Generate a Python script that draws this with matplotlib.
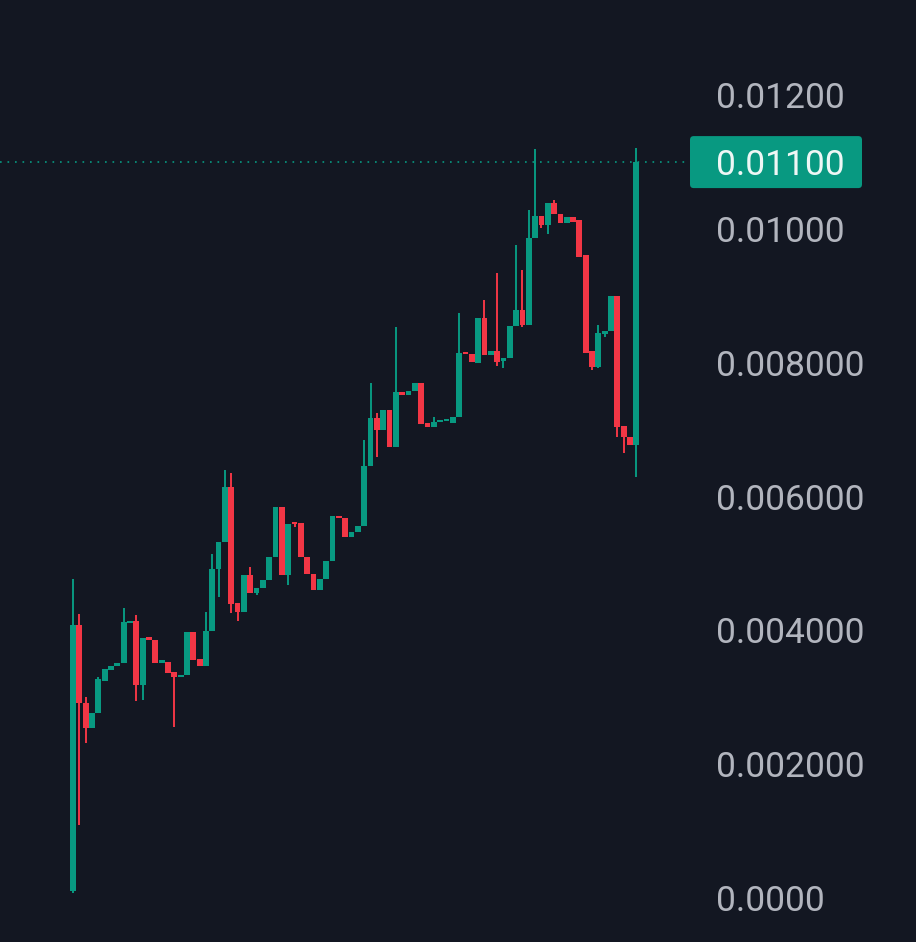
import matplotlib
matplotlib.use("Agg")
import matplotlib.pyplot as plt
from matplotlib.patches import FancyBboxPatch
import numpy as np

# OHLC per candle
opens = [0.00010, 0.00408, 0.00292, 0.00254, 0.00277, 0.00324, 0.00341, 0.00347, 0.00351, 0.00411,
         0.00414, 0.00318, 0.00390, 0.00386, 0.00351, 0.00353, 0.00338, 0.00330, 0.00333, 0.00398,
         0.00357, 0.00347, 0.00399, 0.00492, 0.00532, 0.00614, 0.00441, 0.00428, 0.00483, 0.00456,
         0.00463, 0.00475, 0.00510, 0.00585, 0.00483, 0.00561, 0.00561, 0.00510, 0.00484, 0.00460,
         0.00477, 0.00504, 0.00571, 0.00568, 0.00540, 0.00547, 0.00556, 0.00646, 0.00718, 0.00700,
         0.00730, 0.00674, 0.00756, 0.00752, 0.00758, 0.00770, 0.00710, 0.00704, 0.00712, 0.00713,
         0.00710, 0.00719, 0.00816, 0.00813, 0.00800, 0.00867, 0.00812, 0.00818, 0.00803, 0.00807,
         0.00855, 0.00879, 0.00857, 0.00987, 0.01020, 0.01006, 0.01039, 0.01022, 0.01009, 0.01018,
         0.01014, 0.00961, 0.00818, 0.00794, 0.00843, 0.00848, 0.00900, 0.00706, 0.00689, 0.00677]
highs = [0.00477, 0.00425, 0.00301, 0.00277, 0.00330, 0.00342, 0.00347, 0.00351, 0.00434, 0.00414,
         0.00423, 0.00389, 0.00390, 0.00386, 0.00356, 0.00353, 0.00338, 0.00333, 0.00398, 0.00398,
         0.00357, 0.00428, 0.00514, 0.00532, 0.00640, 0.00635, 0.00441, 0.00483, 0.00495, 0.00463,
         0.00475, 0.00510, 0.00585, 0.00585, 0.00559, 0.00561, 0.00561, 0.00510, 0.00484, 0.00477,
         0.00504, 0.00571, 0.00571, 0.00568, 0.00547, 0.00556, 0.00685, 0.00770, 0.00725, 0.00730,
         0.00730, 0.00854, 0.00756, 0.00758, 0.00770, 0.00770, 0.00710, 0.00719, 0.00713, 0.00715,
         0.00719, 0.00875, 0.00816, 0.00813, 0.00867, 0.00894, 0.00818, 0.00934, 0.00807, 0.00855,
         0.00976, 0.00939, 0.01028, 0.01120, 0.01020, 0.01039, 0.01043, 0.01022, 0.01018, 0.01018,
         0.01014, 0.00961, 0.00818, 0.00857, 0.00848, 0.00900, 0.00900, 0.00706, 0.00689, 0.01121]
lows = [0.00008, 0.00109, 0.00232, 0.00254, 0.00277, 0.00324, 0.00341, 0.00347, 0.00351, 0.00411,
        0.00295, 0.00296, 0.00386, 0.00351, 0.00351, 0.00336, 0.00256, 0.00330, 0.00333, 0.00356,
        0.00347, 0.00347, 0.00399, 0.00450, 0.00532, 0.00426, 0.00414, 0.00428, 0.00456, 0.00453,
        0.00463, 0.00475, 0.00510, 0.00483, 0.00468, 0.00555, 0.00510, 0.00484, 0.00460, 0.00460,
        0.00477, 0.00504, 0.00568, 0.00540, 0.00540, 0.00547, 0.00556, 0.00646, 0.00659, 0.00700,
        0.00674, 0.00674, 0.00752, 0.00752, 0.00758, 0.00709, 0.00704, 0.00704, 0.00712, 0.00713,
        0.00710, 0.00719, 0.00813, 0.00801, 0.00800, 0.00812, 0.00812, 0.00795, 0.00792, 0.00807,
        0.00855, 0.00854, 0.00857, 0.00987, 0.01002, 0.00993, 0.01022, 0.01009, 0.01009, 0.01011,
        0.00958, 0.00815, 0.00789, 0.00792, 0.00839, 0.00848, 0.00689, 0.00665, 0.00677, 0.00629]
closes = [0.00408, 0.00292, 0.00254, 0.00277, 0.00327, 0.00342, 0.00347, 0.00351, 0.00413, 0.00414,
          0.00318, 0.00389, 0.00386, 0.00351, 0.00356, 0.00336, 0.00330, 0.00333, 0.00398, 0.00356,
          0.00347, 0.00399, 0.00492, 0.00532, 0.00614, 0.00440, 0.00428, 0.00483, 0.00456, 0.00463,
          0.00475, 0.00510, 0.00585, 0.00483, 0.00559, 0.00559, 0.00510, 0.00484, 0.00460, 0.00477,
          0.00504, 0.00571, 0.00568, 0.00540, 0.00547, 0.00556, 0.00646, 0.00718, 0.00700, 0.00730,
          0.00674, 0.00756, 0.00752, 0.00758, 0.00770, 0.00709, 0.00704, 0.00712, 0.00713, 0.00715,
          0.00719, 0.00815, 0.00813, 0.00801, 0.00867, 0.00812, 0.00818, 0.00801, 0.00807, 0.00855,
          0.00879, 0.00857, 0.00987, 0.01020, 0.01006, 0.01039, 0.01022, 0.01009, 0.01018, 0.01011,
          0.00958, 0.00815, 0.00794, 0.00845, 0.00848, 0.00900, 0.00704, 0.00689, 0.00677, 0.01100]

tick_values = [0.0, 0.002, 0.004, 0.006, 0.008, 0.010, 0.012]
tick_labels = ["0.0000", "0.002000", "0.004000", "0.006000", "0.008000", "0.01000", "0.01200"]
last_label = "0.01100"

# Style
bg = "#131722"
up_color = "#089981"
down_color = "#f23645"
text_color = "#b2b5be"

fig = plt.figure(figsize=(9.16, 9.42), dpi=100, facecolor=bg)
ax = fig.add_axes([0, 0, 690 / 916, 1])
ax.set_facecolor(bg)

o = np.array(opens)
h = np.array(highs)
l = np.array(lows)
c = np.array(closes)
x = np.arange(len(o))
colors = np.where(c >= o, up_color, down_color)

ax.vlines(x, l, h, colors=colors, linewidth=1.4, zorder=2)
body_bottom = np.minimum(o, c)
body_height = np.maximum(np.abs(c - o), 0.00003)
ax.bar(x, body_height, bottom=body_bottom, width=0.92, color=colors,
       linewidth=0, zorder=3)

# last price line
ax.axhline(c[-1], color=up_color, linestyle=(0, (1, 3.5)), linewidth=1.2, zorder=1)

ax.set_xlim(-11.53, 97.47)
ax.set_ylim(-0.000658, 0.013423)

for side in ["left", "right", "top", "bottom"]:
    ax.spines[side].set_visible(False)
ax.set_xticks([])
ax.yaxis.tick_right()
ax.set_yticks(tick_values)
ax.set_yticklabels(tick_labels)
ax.tick_params(axis="y", length=0, pad=18.7, labelsize=25.5, labelcolor=text_color)
for lab in ax.get_yticklabels():
    lab.set_fontfamily("Roboto")

# last price tag
fig.canvas.draw()
px = ax.transData.transform((0, c[-1]))
fy = fig.transFigure.inverted().transform(px)[1]
box_h = 52 / 942
tag = FancyBboxPatch((690 / 916, fy - box_h / 2), 172 / 916, box_h,
                     boxstyle="round,pad=0,rounding_size=0.004",
                     transform=fig.transFigure, facecolor=up_color,
                     edgecolor="none", zorder=5)
fig.patches.append(tag)
fig.text(716 / 916, fy, last_label, color="#eef7f5", fontsize=25.5,
         family="Roboto", ha="left", va="center_baseline", zorder=6)

fig.savefig("out.png", dpi=100, facecolor=bg)
